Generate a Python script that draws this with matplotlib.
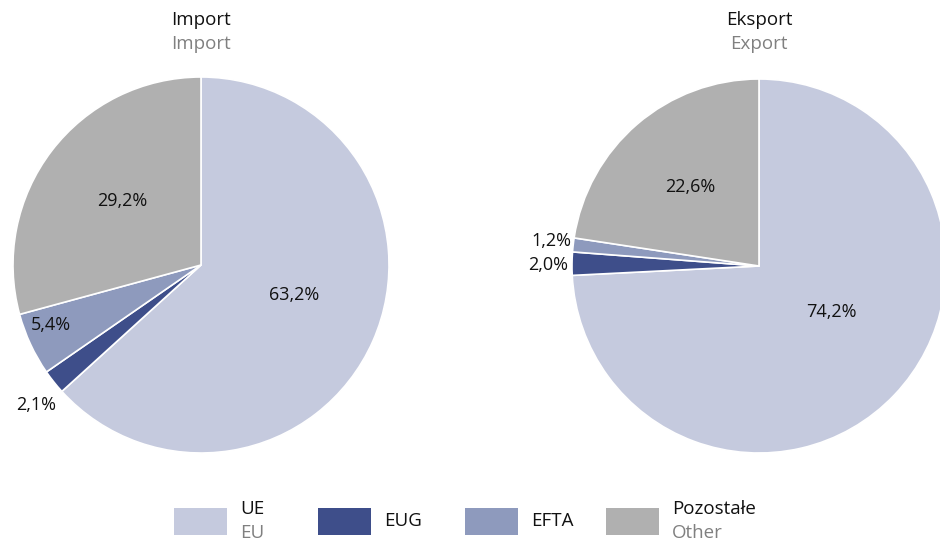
import numpy as np
import matplotlib
matplotlib.use('Agg')
import matplotlib.pyplot as plt
from matplotlib.patches import Rectangle

plt.rcParams['font.family'] = ['Open Sans', 'DejaVu Sans']

categories = ['UE', 'EUG', 'EFTA', 'Pozostałe']
categories_en = ['EU', '', '', 'Other']
import_vals = [63.2, 2.1, 5.4, 29.2]
export_vals = [74.2, 2.0, 1.2, 22.6]
import_labels = ['63,2%', '2,1%', '5,4%', '29,2%']
export_labels = ['74,2%', '2,0%', '1,2%', '22,6%']
colors = ['#c5cade', '#3e4e8a', '#8e9abd', '#b0b0b0']

W, H = 940, 544
fig = plt.figure(figsize=(W / 100, H / 100), dpi=100)


def draw_pie(cx, cy, r, vals, labels, dists, shifts, title):
    ax = fig.add_axes([(cx - r) / W, (H - cy - r) / H, 2 * r / W, 2 * r / H])
    wedges, _ = ax.pie(vals, colors=colors, startangle=90, counterclock=False,
                       wedgeprops=dict(edgecolor='white', linewidth=1.2))
    # label position: wedge middle, nudged by a few degrees where needed
    for w, lab, d, s in zip(wedges, labels, dists, shifts):
        mid = np.deg2rad((w.theta1 + w.theta2) / 2 + s)
        ax.text(d * np.cos(mid), d * np.sin(mid), lab, ha='center', va='center',
                fontsize=13, color='#111111')
    ax.set_xlim(-1, 1)
    ax.set_ylim(-1, 1)
    ax.set_aspect('equal')
    ax.axis('off')
    fig.text(cx / W, 1 - 20 / H, title[0], ha='center', va='center', fontsize=13.5, color='#111111')
    fig.text(cx / W, 1 - 44 / H, title[1], ha='center', va='center', fontsize=13.5, color='#808080')


draw_pie(201, 265, 188, import_vals, import_labels, [0.52, 1.15, 0.86, 0.54],
         [6, 2, -3, -2], ('Import', 'Import'))
draw_pie(759, 266, 187, export_vals, export_labels, [0.46, 1.13, 1.12, 0.56],
         [11, 0.5, -0.5, 0], ('Eksport', 'Export'))

# legend
patch_x = [174, 318, 465, 606]
for px, c, lab, lab_en in zip(patch_x, colors, categories, categories_en):
    fig.patches.append(Rectangle((px / W, 1 - 535 / H), 53 / W, 27 / H,
                                 facecolor=c, edgecolor='none', transform=fig.transFigure))
    tx = (px + 66) / W
    if lab_en:
        fig.text(tx, 1 - 509 / H, lab, ha='left', va='center', fontsize=13.5, color='#111111')
        fig.text(tx, 1 - 533 / H, lab_en, ha='left', va='center', fontsize=13.5, color='#808080')
    else:
        fig.text(tx, 1 - 521 / H, lab, ha='left', va='center', fontsize=13.5, color='#111111')

fig.savefig('out.png', dpi=100)
